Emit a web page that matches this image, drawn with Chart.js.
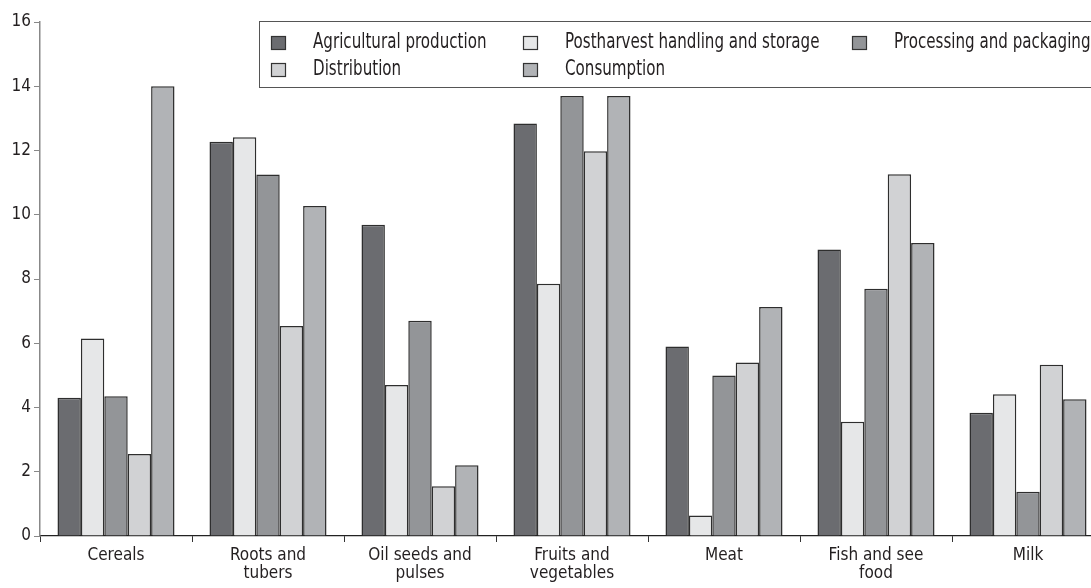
<!DOCTYPE html>
<html><head><meta charset="utf-8">
<script src="https://cdn.jsdelivr.net/npm/chart.js@4/dist/chart.umd.min.js"></script>
<style>html,body{margin:0;padding:0;background:#fff;overflow:hidden}#wrap{width:1091px;height:588px;overflow:hidden;position:relative}canvas{display:block}</style>
</head><body><div id="wrap"><canvas id="c" width="1104" height="588"></canvas></div>
<script>
const categories = [["Cereals"],["Roots and","tubers"],["Oil seeds and","pulses"],["Fruits and","vegetables"],["Meat"],["Fish and see","food"],["Milk"]];
const seriesNames = ["Agricultural production","Postharvest handling and storage","Processing and packaging","Distribution","Consumption"];
const agricultural = [4.3, 12.27, 9.69, 12.84, 5.9, 8.92, 3.84];
const postharvest  = [6.15, 12.41, 4.7, 7.85, 0.64, 3.56, 4.41];
const processing   = [4.35, 11.25, 6.7, 13.7, 5.0, 7.7, 1.38];
const distribution = [2.55, 6.54, 1.55, 11.98, 5.4, 11.26, 5.33];
const consumption  = [14.0, 10.27, 2.2, 13.7, 7.13, 9.12, 4.26];
const yTicks = [0,2,4,6,8,10,12,14,16];
const colors = ["#6b6c70","#e6e7e8","#939598","#d1d2d4","#b1b3b6"];
const FONT = "'Liberation Sans Narrow','DejaVu Sans Condensed','Liberation Sans',sans-serif";
const values = [agricultural, postharvest, processing, distribution, consumption];

const legendPlugin = {
  id: 'boxLegend',
  afterDraw(chart) {
    const ctx = chart.ctx;
    ctx.save();
    ctx.strokeStyle = '#555';
    ctx.lineWidth = 1;
    ctx.fillStyle = '#fff';
    ctx.fillRect(259.5, 21.5, 900, 66);
    ctx.strokeRect(259.5, 21.5, 900, 66);
    const sw = [271, 523, 852];
    const tx = [313, 565, 894];
    const rows = [43, 70];
    ctx.textBaseline = 'middle';
    chart.data.datasets.forEach((ds, i) => {
      const col = i < 3 ? i : i - 3;
      const row = i < 3 ? 0 : 1;
      const x = sw[col], y = rows[row];
      ctx.fillStyle = ds.backgroundColor;
      ctx.fillRect(x + 0.5, y - 6.5, 14, 13);
      ctx.strokeStyle = '#333';
      ctx.lineWidth = 1.2;
      ctx.strokeRect(x + 0.5, y - 6.5, 14, 13);
      ctx.save();
      ctx.translate(tx[col], y);
      ctx.scale(0.8, 1);
      ctx.font = '21px ' + FONT;
      ctx.fillStyle = '#231f20';
      ctx.fillText(ds.label, 0, 0);
      ctx.restore();
    });
    ctx.restore();
  }
};

new Chart(document.getElementById('c'), {
  type: 'bar',
  data: {
    labels: categories,
    datasets: seriesNames.map((n, i) => ({
      label: n,
      data: values[i],
      backgroundColor: colors[i],
      borderColor: '#2e2e2e',
      borderWidth: 1.5,
      barPercentage: 1.0,
      categoryPercentage: 0.77
    }))
  },
  options: {
    responsive: false,
    animation: false,
    devicePixelRatio: 1,
    layout: { padding: { top: 22, left: 0, right: 0, bottom: 0 } },
    plugins: { legend: { display: false }, tooltip: { enabled: false } },
    scales: {
      x: {
        afterFit(s) { s.height = 52; },
        grid: { offset: true, drawOnChartArea: false, tickLength: 6, color: '#333', lineWidth: 1 },
        border: { color: '#222', width: 1.2 },
        ticks: { color: '#231f20', font: { family: FONT, size: 17, lineHeight: 1.06 }, padding: 5, maxRotation: 0, autoSkip: false }
      },
      y: {
        min: 0, max: 16,
        afterFit(s) { s.width = 40; },
        afterBuildTicks(s) { s.ticks = yTicks.map(v => ({ value: v })); },
        grid: { drawOnChartArea: false, tickLength: 6, color: '#888', lineWidth: 1 },
        border: { color: '#888', width: 1.5 },
        ticks: { color: '#231f20', font: { family: FONT, size: 17 }, padding: 3 }
      }
    }
  },
  plugins: [legendPlugin]
});
</script></body></html>
